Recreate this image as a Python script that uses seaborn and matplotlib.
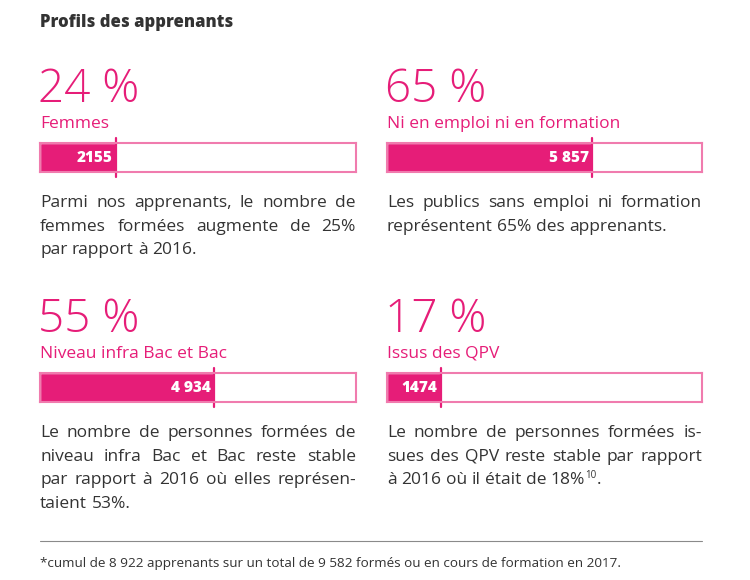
import matplotlib
matplotlib.use("Agg")
import matplotlib.pyplot as plt
import seaborn as sns
import pandas as pd

title = "Profils des apprenants"
pcts = [24, 65, 55, 17]
categories = ["Femmes", "Ni en emploi ni en formation", "Niveau infra Bac et Bac", "Issus des QPV"]
counts = ["2155", "5 857", "4 934", "1474"]
paragraphs = [
    ["Parmi nos apprenants, le nombre de", "femmes formées augmente de 25%", "par rapport à 2016."],
    ["Les publics sans emploi ni formation", "représentent 65% des apprenants."],
    ["Le nombre de personnes formées de", "niveau infra Bac et Bac reste stable",
     "par rapport à 2016 où elles représen-", "taient 53%."],
    ["Le nombre de personnes formées is-", "sues des QPV reste stable par rapport",
     "à 2016 où il était de 18%"],
]
notes = ["", "", "", "10"]
footer = "*cumul de 8 922 apprenants sur un total de 9 582 formés ou en cours de formation en 2017."

W, H = 750, 580
pink = "#E61D78"
pink_light = "#F07BAE"
dark = "#333333"

sns.set_theme(style="white")
plt.rcParams["font.family"] = ["Open Sans", "DejaVu Sans"]

fig = plt.figure(figsize=(W / 100, H / 100), dpi=100)
fig.patch.set_facecolor("white")
r = fig.canvas.get_renderer()


def fx(x):
    return x / W


def fy(y):
    return 1 - y / H


def width_of(t):
    return t.get_window_extent(renderer=r).width


def justified(x0, x1, y, line, last=False, **kw):
    words = line.split(" ")
    objs = [fig.text(fx(x0), fy(y), w, va="baseline", **kw) for w in words]
    widths = [width_of(t) for t in objs]
    if last or len(words) == 1:
        sp = width_of(fig.text(0, 0, "a a", **kw)) - width_of(fig.text(0, 0, "aa", **kw))
        for t in fig.texts[-2:]:
            t.remove()
    else:
        sp = (x1 - x0 - sum(widths)) / (len(words) - 1)
    x = x0
    for t, w in zip(objs, widths):
        t.set_x(fx(x))
        x += w + sp
    return x - sp


fig.text(fx(40), fy(27), title, fontsize=12, fontweight="heavy", color=dark, va="baseline")

cols = [(40, 356), (387, 702)]
for i in range(4):
    x0, x1 = cols[i % 2]
    dy = 230 * (i // 2)

    fig.text(fx(x0 - 2), fy(102 + dy), f"{pcts[i]} %", fontsize=33, fontweight="light",
             color=pink, va="baseline")
    fig.text(fx(x0), fy(128 + dy), categories[i], fontsize=12.5, color=pink, va="baseline")

    ax = fig.add_axes([fx(x0), fy(172 + dy), (x1 - x0) / W, 29 / H])
    df = pd.DataFrame({"cat": [categories[i]], "pct": [pcts[i]]})
    sns.barplot(data=df, x="pct", y="cat", orient="h", color=pink, width=1,
                saturation=1, ax=ax)
    ax.set_xlim(0, 100)
    ax.set_ylim(0.5, -0.5)
    ax.set_xticks([])
    ax.set_yticks([])
    ax.set_xlabel("")
    ax.set_ylabel("")
    for s in ax.spines.values():
        s.set_visible(True)
        s.set_color(pink_light)
        s.set_linewidth(1.5)
    ax.axvline(pcts[i], ymin=-0.18, ymax=1.18, color=pink, lw=1.6, clip_on=False)
    ax.text(pcts[i] - 1.0, 0.03, counts[i], ha="right", va="center", color="white",
            fontsize=11, fontweight="heavy")

    lines = paragraphs[i]
    for j, line in enumerate(lines):
        last = j == len(lines) - 1
        yb = 207 + dy + j * 23.6
        end = justified(x0, x1, yb, line, last=last, fontsize=12.5, color=dark)
        if last and notes[i]:
            sup = fig.text(fx(end), fy(yb - 6), notes[i], fontsize=7, color=dark, va="baseline")
            fig.text(fx(end + 0.5 + width_of(sup)), fy(yb), ".", fontsize=12.5,
                     color=dark, va="baseline")

fig.add_artist(plt.Line2D([fx(40), fx(702)], [fy(541), fy(541)], color="#8a8a8a", lw=0.8))
fig.text(fx(40), fy(567), footer, fontsize=9.7, color=dark, va="baseline")

fig.savefig("out.png", dpi=100, facecolor="white")
